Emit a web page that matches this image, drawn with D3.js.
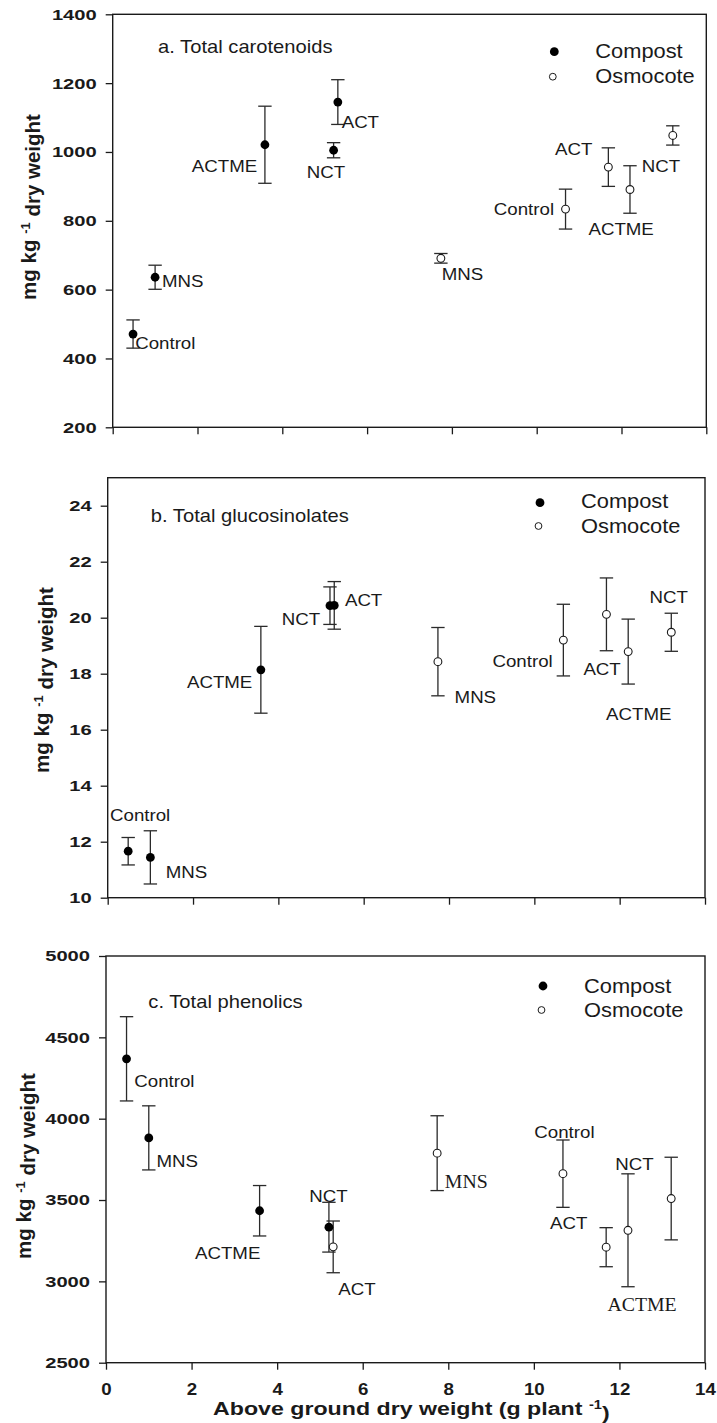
<!DOCTYPE html>
<html><head><meta charset="utf-8">
<script src="https://cdn.jsdelivr.net/npm/d3@7/dist/d3.min.js"></script>
<style>body{margin:0;background:#fff} svg{display:block}</style>
</head><body>
<script>
// ---------------- data ----------------
const treatments = ["Control", "MNS", "ACTME", "NCT", "ACT"];
const compostBiomass  = [0.48, 1.00, 3.59, 5.21, 5.31];
const osmocoteBiomass = [10.68, 7.74, 12.20, 13.21, 11.69];

const caroCompost   = [471, 636, 1021, 1005, 1145];
const caroCompostSE = [41, 35, 112, 22, 65];
const caroOsmo      = [834, 691, 891, 1048, 956];
const caroOsmoSE    = [58, 14, 69, 28, 56];

const glucCompost   = [11.66, 11.44, 18.14, 20.43, 20.44];
const glucCompostSE = [0.49, 0.95, 1.55, 0.67, 0.85];
const glucOsmo      = [19.20, 18.43, 18.79, 19.48, 20.12];
const glucOsmoSE    = [1.28, 1.22, 1.16, 0.68, 1.30];

const phenCompost   = [4368, 3882, 3434, 3333, 3212];
const phenCompostSE = [259, 197, 155, 153, 159];
const phenOsmo      = [3662, 3788, 3314, 3509, 3210];
const phenOsmoSE    = [207, 230, 347, 254, 120];

const xTicks  = [0, 2, 4, 6, 8, 10, 12, 14];
const yTicksA = [200, 400, 600, 800, 1000, 1200, 1400];
const yTicksB = [10, 12, 14, 16, 18, 20, 22, 24];
const yTicksC = [2500, 3000, 3500, 4000, 4500, 5000];

const panelTitles = ["a. Total carotenoids", "b. Total glucosinolates", "c. Total phenolics"];
const legendLabels = ["Compost", "Osmocote"];

// point-label annotations: [text, x (g plant-1), y (data units), anchor, serif?]
const labelsA = [
  ["Control", 0.53, 427, "start"], ["MNS", 1.16, 609, "start"], ["ACTME", 3.41, 943, "end"],
  ["NCT", 5.03, 924, "middle"], ["ACT", 5.40, 1071, "start"],
  ["ACT", 10.43, 991, "start"], ["NCT", 12.48, 943, "start"], ["Control", 10.41, 817, "end"],
  ["ACTME", 11.22, 759, "start"], ["MNS", 7.76, 628, "start"]
];
const labelsB = [
  ["NCT", 4.98, 19.74, "end"], ["ACT", 5.56, 20.43, "start"], ["ACTME", 3.39, 17.5, "end"],
  ["Control", 0.054, 12.75, "start"], ["MNS", 1.36, 10.69, "start"],
  ["MNS", 8.13, 16.96, "start"], ["Control", 10.43, 18.25, "end"], ["ACT", 11.15, 17.95, "start"],
  ["ACTME", 11.68, 16.35, "start"], ["NCT", 12.70, 20.51, "start"]
];
const labelsC = [
  ["Control", 0.66, 4193, "start"], ["MNS", 1.18, 3701, "start"], ["ACTME", 2.08, 3137, "start"],
  ["NCT", 4.75, 3486, "start"], ["ACT", 5.43, 2916, "start"],
  ["MNS", 7.92, 3576, "start", true], ["Control", 10.01, 3883, "start"], ["ACT", 10.38, 3320, "start"],
  ["NCT", 11.90, 3685, "start"], ["ACTME", 11.72, 2820, "start", true]
];

// ---------------- layout ----------------
const W = 717, H = 1423;
const SANS = "'Liberation Sans', Arial, Helvetica, sans-serif";
const SERIF = "'Liberation Serif', 'Times New Roman', serif";
const INK = "#1a1a1a";

const svg = d3.select("body").append("svg").attr("width", W).attr("height", H)
  .attr("font-family", SANS);

const panels = [
  { left: 112.7, right: 706.3, top: 14.3, bottom: 427.3, yDom: [200, 1400], yTicks: yTicksA,
    comp: caroCompost, compSE: caroCompostSE, osmo: caroOsmo, osmoSE: caroOsmoSE,
    labels: labelsA, title: panelTitles[0], titlePos: [1.07, 1287],
    leg: { dx: -152, tx: -111, y1: 37.4, y2: 62.4, t1: 44, t2: 68.4 },
    yTitle: { x: 36, y: 207 }, openComp: [] },
  { left: 107.7, right: 705, top: 477.7, bottom: 897.7, yDom: [10, 25], yTicks: yTicksB,
    comp: glucCompost, compSE: glucCompostSE, osmo: glucOsmo, osmoSE: glucOsmoSE,
    labels: labelsB, title: panelTitles[1], titlePos: [1.01, 23.43],
    leg: { dx: -165, tx: -124, y1: 25, y2: 48.3, t1: 30.6, t2: 55.6 },
    yTitle: { x: 49, y: 680 }, openComp: [] },
  { left: 106, right: 705, top: 956, bottom: 1362.7, yDom: [2500, 5000], yTicks: yTicksC,
    comp: phenCompost, compSE: phenCompostSE, osmo: phenOsmo, osmoSE: phenOsmoSE,
    labels: labelsC, title: panelTitles[2], titlePos: [0.99, 4679],
    leg: { dx: -162, tx: -121, y1: 30, y2: 54, t1: 36.7, t2: 60.7 },
    yTitle: { x: 31, y: 1166 }, openComp: ["ACT"], xLabels: true }
];

function txt(g, x, y, str, o) {
  return g.append("text")
    .attr("transform", `translate(${x},${y}) scale(${o.sx || 1},1)`)
    .attr("text-anchor", o.anchor || "start")
    .attr("font-size", o.size)
    .attr("font-weight", o.weight || "normal")
    .attr("font-family", o.family || SANS)
    .attr("fill", INK)
    .text(str);
}

panels.forEach((p, pi) => {
  const g = svg.append("g");
  const x = d3.scaleLinear().domain([0, 14]).range([p.left, p.right]);
  const y = d3.scaleLinear().domain(p.yDom).range([p.bottom, p.top]);

  // y axis
  const ya = g.append("g").attr("transform", `translate(${p.left},0)`)
    .call(d3.axisLeft(y).tickValues(p.yTicks).tickSize(7).tickPadding(0).tickFormat(d3.format("d")));
  ya.select(".domain").remove();
  ya.selectAll(".tick line").attr("stroke", INK).attr("stroke-width", 1.3);
  ya.selectAll(".tick text")
    .attr("x", null)
    .attr("transform", "translate(-16,0) scale(1.3,1)")
    .attr("font-size", 15.5).attr("font-weight", "bold").attr("font-family", SANS).attr("fill", INK);

  // x axis
  const xa = g.append("g").attr("transform", `translate(0,${p.bottom})`)
    .call(d3.axisBottom(x).tickValues(xTicks).tickSize(7).tickPadding(13).tickFormat(d3.format("d")));
  xa.select(".domain").remove();
  xa.selectAll(".tick line").attr("stroke", INK).attr("stroke-width", 1.3);
  if (p.xLabels) {
    xa.selectAll(".tick text").attr("font-size", 17).attr("font-weight", "bold")
      .attr("font-family", SANS).attr("fill", INK)
      .attr("y", null).attr("dy", null)
      .attr("transform", "translate(0,32) scale(1.1,1)");
  } else {
    xa.selectAll(".tick text").remove();
  }

  // frame
  g.append("rect").attr("x", p.left).attr("y", p.top)
    .attr("width", p.right - p.left).attr("height", p.bottom - p.top)
    .attr("fill", "none").attr("stroke", INK).attr("stroke-width", 1.4);

  // series
  const series = [
    { xs: compostBiomass, m: p.comp, se: p.compSE, filled: true },
    { xs: osmocoteBiomass, m: p.osmo, se: p.osmoSE, filled: false }
  ];
  const cap = 6.7;
  series.forEach(s => {
    treatments.forEach((t, i) => {
      const cx = x(s.xs[i]);
      const y1 = y(s.m[i] + s.se[i]), y2 = y(s.m[i] - s.se[i]);
      g.append("line").attr("x1", cx).attr("x2", cx).attr("y1", y1).attr("y2", y2)
        .attr("stroke", "#2a2a2a").attr("stroke-width", 1.3);
      [y1, y2].forEach(yy => g.append("line").attr("x1", cx - cap).attr("x2", cx + cap)
        .attr("y1", yy).attr("y2", yy).attr("stroke", "#2a2a2a").attr("stroke-width", 1.3));
    });
  });
  series.forEach(s => {
    treatments.forEach((t, i) => {
      const open = !s.filled || p.openComp.includes(t);
      g.append("circle").attr("cx", x(s.xs[i])).attr("cy", y(s.m[i]))
        .attr("r", open ? 3.9 : 4.4)
        .attr("fill", open ? "#fff" : "#000")
        .attr("stroke", open ? "#1a1a1a" : "none").attr("stroke-width", 1.1);
    });
  });

  // point labels
  p.labels.forEach(l => {
    txt(g, x(l[1]), y(l[2]), l[0], { size: l[4] ? 18 : 17, sx: 1.1, anchor: l[3], family: l[4] ? SERIF : SANS });
  });

  // panel title
  txt(g, x(p.titlePos[0]), y(p.titlePos[1]), p.title, { size: 18, sx: 1.12 });

  // legend
  const L = p.leg;
  g.append("circle").attr("cx", p.right + L.dx).attr("cy", p.top + L.y1).attr("r", 4.4).attr("fill", "#000");
  g.append("circle").attr("cx", p.right + L.dx - 1.5).attr("cy", p.top + L.y2).attr("r", 3.4)
    .attr("fill", "#fff").attr("stroke", INK).attr("stroke-width", 1);
  txt(g, p.right + L.tx, p.top + L.t1, legendLabels[0], { size: 19.5, sx: 1.12 });
  txt(g, p.right + L.tx, p.top + L.t2, legendLabels[1], { size: 19.5, sx: 1.12 });

  // y-axis title
  const yt = g.append("text")
    .attr("transform", `translate(${p.yTitle.x},${p.yTitle.y}) rotate(-90)`)
    .attr("text-anchor", "middle").attr("font-size", 20.5).attr("font-weight", "bold").attr("fill", INK);
  yt.append("tspan").text("mg kg ");
  yt.append("tspan").attr("dy", "-0.5em").attr("font-size", 13).text("-1");
  yt.append("tspan").attr("dy", "0.5em").text(" dry weight");

  if (p.xLabels) {
    const xt = g.append("text")
      .attr("transform", `translate(${p.left + 107},1415) scale(1.22,1)`)
      .attr("font-size", 19).attr("font-weight", "bold").attr("fill", INK);
    xt.append("tspan").text("Above ground dry weight (g plant ");
    xt.append("tspan").attr("dy", "-0.5em").attr("font-size", 12).text("-1");
    xt.append("tspan").attr("dy", "0.5em").text(")");
  }
});
</script>
</body></html>
